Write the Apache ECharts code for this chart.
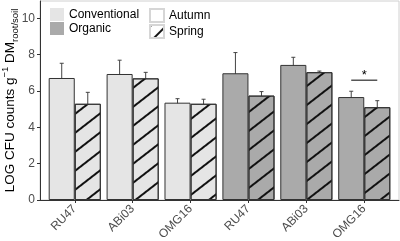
<!DOCTYPE html>
<html>
<head>
<meta charset="utf-8">
<script src="https://cdn.jsdelivr.net/npm/echarts@6/dist/echarts.min.js"></script>
<style>
html, body { margin: 0; padding: 0; background: #fff; }
#main { width: 400px; height: 241px; }
</style>
</head>
<body>
<div id="main"></div>
<script>
// strains, conventional block first then organic block
var categories = ['RU47', 'ABi03', 'OMG16', 'RU47', 'ABi03', 'OMG16'];
var isOrganic = [false, false, false, true, true, true];
var autumnMean = [6.72, 6.94, 5.36, 6.98, 7.44, 5.67];
var autumnLow = [5.88, 6.21, 5.17, 5.88, 6.98, 5.36];
var autumnHigh = [7.53, 7.70, 5.58, 8.12, 7.86, 5.99];
var springMean = [5.30, 6.70, 5.30, 5.75, 7.04, 5.11];
var springLow = [4.67, 6.34, 5.06, 5.53, 6.97, 4.75];
var springHigh = [5.93, 7.03, 5.55, 5.97, 7.10, 5.47];
// significance bracket: [category index, line y, star y]
var signif = [[5, 6.6, 6.85]];

var convColor = '#e5e5e5';
var orgColor = '#aaaaaa';
var edge = '#333333';
var hatch = {
	symbol: 'rect',
	symbolSize: 1,
	dashArrayX: [1, 0],
	dashArrayY: [1.4, 12.6],
	rotation: -Math.PI * 0.21,
	color: '#111'
};
var legendHatch = {
	symbol: 'rect',
	symbolSize: 1,
	dashArrayX: [1, 0],
	dashArrayY: [1.4, 8.6],
	rotation: -Math.PI * 0.25,
	color: '#111'
};

function pick(arr, organic) {
	return arr.map(function (v, i) { return isOrganic[i] === organic ? v : '-'; });
}

var errData = [];
for (var i = 0; i < categories.length; i++) {
	errData.push([i, autumnLow[i], autumnHigh[i], -1]);
	errData.push([i, springLow[i], springHigh[i], 1]);
}

var font = 'Liberation Sans, Arial, sans-serif';
var chart = echarts.init(document.getElementById('main'), null, { renderer: 'canvas' });

var barBase = {
	type: 'bar',
	xAxisIndex: 1,
	yAxisIndex: 1,
	barGap: '0%',
	barCategoryGap: '10%',
	silent: true
};

var option = {
	animation: false,
	textStyle: { fontFamily: font },
	grid: [
		{ left: 40, right: 1, top: 1, bottom: 41, show: true, borderColor: '#d0d0d0', borderWidth: 1, backgroundColor: 'transparent', containLabel: false, outerBoundsMode: 'none' },
		{ left: 45.8, right: 6.8, top: 1, bottom: 41, containLabel: false, outerBoundsMode: 'none' }
	],
	legend: [
		{
			orient: 'vertical', left: 50, top: 8, padding: 0, itemWidth: 14, itemHeight: 13, itemGap: 1,
			icon: 'rect', selectedMode: false,
			textStyle: { fontSize: 12, color: '#000', fontFamily: font },
			data: [
				{ name: 'Conventional', itemStyle: { borderWidth: 0 } },
				{ name: 'Organic', itemStyle: { borderWidth: 0 } }
			]
		},
		{
			orient: 'vertical', left: 149, top: 8, padding: 0, itemWidth: 14, itemHeight: 13, itemGap: 1,
			icon: 'rect', selectedMode: false,
			textStyle: { fontSize: 12, color: '#000', fontFamily: font },
			data: ['Autumn', { name: 'Spring', itemStyle: { decal: legendHatch } }]
		}
	],
	xAxis: [
		{
			gridIndex: 0, type: 'value', min: 0, max: 1,
			axisLine: { show: true, lineStyle: { color: edge, width: 1 } },
			axisTick: { show: false }, axisLabel: { show: false }, splitLine: { show: false }
		},
		{
			gridIndex: 1, type: 'category', data: categories,
			axisLine: { show: false },
			axisTick: { show: true, alignWithLabel: true, length: 3, lineStyle: { color: edge } },
			axisLabel: { rotate: 45, fontSize: 12, color: '#4d4d4d', margin: 7, fontFamily: font },
			splitLine: { show: false }
		}
	],
	yAxis: [
		{
			gridIndex: 0, type: 'value', min: 0, max: 10.96, interval: 2,
			axisLine: { show: true, lineStyle: { color: edge, width: 1 } },
			axisTick: { show: true, length: 3, lineStyle: { color: edge } },
			axisLabel: { fontSize: 12, color: '#4d4d4d', margin: 5, showMaxLabel: false, fontFamily: font },
			splitLine: { show: false },
			name: '{a|LOG CFU counts g}{sup|\u22121}{a| DM}{sub|root/soil}',
			nameLocation: 'middle',
			nameRotate: 90,
			nameGap: 20,
			nameMoveOverlap: false,
			nameTextStyle: {
				color: '#000',
				rich: {
					a: { fontSize: 13.5, color: '#000', fontFamily: font, lineHeight: 20 },
					sup: { fontSize: 9.5, color: '#000', fontFamily: font, verticalAlign: 'top', lineHeight: 20 },
					sub: { fontSize: 9.5, color: '#000', fontFamily: font, verticalAlign: 'bottom', lineHeight: 20 }
				}
			}
		},
		{ gridIndex: 1, type: 'value', min: 0, max: 10.96, show: false, splitLine: { show: false } }
	],
	series: [
		Object.assign({}, barBase, {
			name: 'Conventional', stack: 'autumn', data: pick(autumnMean, false),
			itemStyle: { color: convColor, borderColor: edge, borderWidth: 1 }
		}),
		Object.assign({}, barBase, {
			name: 'Organic', stack: 'autumn', data: pick(autumnMean, true),
			itemStyle: { color: orgColor, borderColor: edge, borderWidth: 1 }
		}),
		Object.assign({}, barBase, {
			name: 'Conventional spring', stack: 'spring', data: pick(springMean, false),
			itemStyle: { color: convColor, borderColor: edge, borderWidth: 1, decal: hatch }
		}),
		Object.assign({}, barBase, {
			name: 'Organic spring', stack: 'spring', data: pick(springMean, true),
			itemStyle: { color: orgColor, borderColor: edge, borderWidth: 1, decal: hatch }
		}),
		Object.assign({}, barBase, {
			name: 'Autumn', stack: 'autumn', data: [],
			itemStyle: { color: '#fff', borderColor: '#d6d6d6', borderWidth: 1 }
		}),
		Object.assign({}, barBase, {
			name: 'Spring', stack: 'spring', data: [],
			itemStyle: { color: '#fff', borderColor: '#d6d6d6', borderWidth: 1, decal: hatch }
		}),
		{
			type: 'custom', name: 'error', xAxisIndex: 1, yAxisIndex: 1, silent: true,
			data: errData,
			renderItem: function (params, api) {
				var band = api.size([1, 0])[0];
				var hi = api.coord([api.value(0), api.value(2)]);
				var lo = api.coord([api.value(0), api.value(1)]);
				var x = hi[0] + api.value(3) * band * 0.225;
				var st = { stroke: '#444', lineWidth: 1 };
				return {
					type: 'group',
					children: [
						{ type: 'line', shape: { x1: x, y1: hi[1], x2: x, y2: lo[1] }, style: st },
						{ type: 'line', shape: { x1: x - 2, y1: hi[1], x2: x + 2, y2: hi[1] }, style: st },
						{ type: 'line', shape: { x1: x - 2, y1: lo[1], x2: x + 2, y2: lo[1] }, style: st }
					]
				};
			}
		},
		{
			type: 'custom', name: 'signif', xAxisIndex: 1, yAxisIndex: 1, silent: true,
			data: signif,
			renderItem: function (params, api) {
				var band = api.size([1, 0])[0];
				var p = api.coord([api.value(0), api.value(1)]);
				var s = api.coord([api.value(0), api.value(2)]);
				var d = band * 0.225;
				return {
					type: 'group',
					children: [
						{ type: 'line', shape: { x1: p[0] - d, y1: p[1], x2: p[0] + d, y2: p[1] }, style: { stroke: '#000', lineWidth: 1 } },
						{ type: 'text', style: { text: '*', x: s[0], y: s[1], align: 'center', verticalAlign: 'middle', fontSize: 13, fill: '#000', fontFamily: font } }
					]
				};
			}
		}
	]
};

chart.setOption(option);
</script>
</body>
</html>
